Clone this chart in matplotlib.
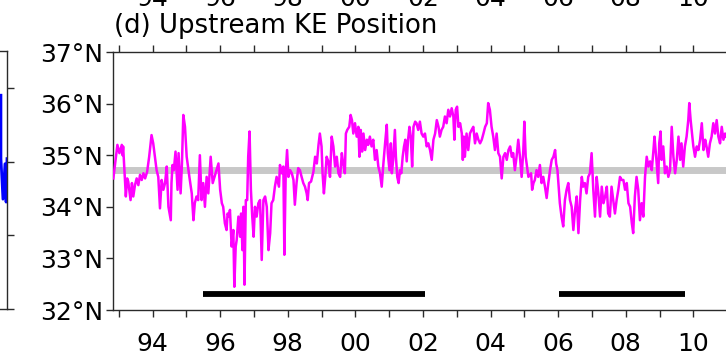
import matplotlib
matplotlib.use("Agg")
import matplotlib.pyplot as plt
import matplotlib.transforms as mtransforms
import numpy as np

plt.rcParams['font.family'] = ['DejaVu Sans']

# ---- Upstream KE position (decimal year, latitude in degrees N) ----
ke_years = [
    1992.84, 1992.96, 1993.02, 1993.09, 1993.11, 1993.13, 1993.18, 1993.21, 1993.25, 1993.28,
    1993.35, 1993.39, 1993.43, 1993.48, 1993.53, 1993.58, 1993.63, 1993.68, 1993.73, 1993.78,
    1993.84, 1993.90, 1993.97, 1994.02, 1994.07, 1994.12, 1994.17, 1994.22, 1994.27, 1994.32,
    1994.37, 1994.42, 1994.47, 1994.54, 1994.56, 1994.59, 1994.63, 1994.68, 1994.74, 1994.77,
    1994.83, 1994.87, 1994.91, 1994.96, 1995.01, 1995.09, 1995.16, 1995.21, 1995.25, 1995.30,
    1995.35, 1995.40, 1995.45, 1995.50, 1995.55, 1995.60, 1995.65, 1995.72, 1995.78,
    1995.95, 1996.00, 1996.05, 1996.09, 1996.14, 1996.19, 1996.22, 1996.26, 1996.29, 1996.34,
    1996.39, 1996.42, 1996.46, 1996.49, 1996.54, 1996.59, 1996.62, 1996.66, 1996.69, 1996.72,
    1996.76, 1996.80, 1996.83, 1996.87, 1996.91, 1996.95, 1996.99, 1997.03, 1997.08, 1997.13,
    1997.18, 1997.23, 1997.28, 1997.33, 1997.38, 1997.43, 1997.48, 1997.52, 1997.57, 1997.62,
    1997.67, 1997.74, 1997.77, 1997.82, 1997.87, 1997.90, 1997.94, 1997.98, 1998.02, 1998.07,
    1998.12, 1998.17, 1998.21, 1998.26, 1998.31, 1998.36, 1998.41, 1998.46, 1998.51, 1998.56,
    1998.59, 1998.63, 1998.69, 1998.76, 1998.81, 1998.86, 1998.91,
    1998.95, 1999.00, 1999.03, 1999.07, 1999.11, 1999.15, 1999.20, 1999.25, 1999.30, 1999.35,
    1999.40, 1999.45, 1999.50, 1999.55, 1999.60, 1999.64, 1999.69, 1999.72, 1999.76, 1999.82,
    1999.86, 1999.90, 1999.94, 1999.99, 2000.04, 2000.09, 2000.12, 2000.16, 2000.20, 2000.24,
    2000.29, 2000.34, 2000.38, 2000.43, 2000.48, 2000.53, 2000.58, 2000.63, 2000.68, 2000.73,
    2000.78, 2000.83, 2000.88, 2000.93, 2000.96, 2001.01, 2001.05, 2001.08, 2001.12, 2001.17,
    2001.20, 2001.24, 2001.28, 2001.32, 2001.36, 2001.40, 2001.44, 2001.48, 2001.52, 2001.56,
    2001.60, 2001.64, 2001.68, 2001.72, 2001.77, 2001.81, 2001.86, 2001.91, 2001.96, 2002.01,
    2002.06, 2002.11, 2002.16, 2002.21, 2002.26, 2002.31, 2002.36, 2002.41, 2002.46, 2002.50,
    2002.55, 2002.60, 2002.65, 2002.70, 2002.75, 2002.80, 2002.85, 2002.90, 2002.93, 2002.97,
    2003.01, 2003.05, 2003.10, 2003.15, 2003.18, 2003.21, 2003.24, 2003.29, 2003.34, 2003.39,
    2003.44, 2003.49, 2003.54, 2003.59, 2003.64, 2003.69, 2003.74, 2003.79, 2003.84, 2003.89,
    2003.93, 2003.98, 2004.03, 2004.08, 2004.13, 2004.18, 2004.23, 2004.28, 2004.33, 2004.38,
    2004.43, 2004.48, 2004.53, 2004.58, 2004.63, 2004.67, 2004.72, 2004.77, 2004.82, 2004.87,
    2004.92, 2004.97, 2005.00, 2005.04, 2005.08, 2005.12,
    2005.20, 2005.23, 2005.27, 2005.31, 2005.36, 2005.41, 2005.46, 2005.51, 2005.56, 2005.61,
    2005.66, 2005.71, 2005.76, 2005.81, 2005.86, 2005.91, 2005.94, 2005.98, 2006.02, 2006.05,
    2006.10, 2006.15, 2006.20, 2006.25, 2006.30, 2006.35, 2006.40, 2006.45, 2006.50, 2006.55,
    2006.60, 2006.65, 2006.70, 2006.74, 2006.79, 2006.84, 2006.89, 2006.94, 2006.99, 2007.04,
    2007.09, 2007.14, 2007.19, 2007.24, 2007.29, 2007.34, 2007.39, 2007.44, 2007.48, 2007.53,
    2007.58, 2007.63, 2007.68, 2007.73, 2007.78, 2007.83, 2007.88, 2007.93, 2007.98, 2008.03,
    2008.08,
    2008.13, 2008.18, 2008.22, 2008.27, 2008.32, 2008.37, 2008.42, 2008.47, 2008.52, 2008.57,
    2008.62, 2008.67, 2008.72, 2008.77, 2008.82, 2008.85, 2008.90, 2008.93, 2008.96, 2008.99,
    2009.03, 2009.06, 2009.11, 2009.16, 2009.21, 2009.26, 2009.31, 2009.36, 2009.41, 2009.46,
    2009.51, 2009.56, 2009.61, 2009.65, 2009.70, 2009.75, 2009.80, 2009.85, 2009.88, 2009.92,
    2009.95, 2010.00, 2010.05, 2010.10, 2010.15, 2010.20, 2010.25, 2010.30, 2010.35, 2010.39,
    2010.44, 2010.49, 2010.54, 2010.59, 2010.64, 2010.69, 2010.74, 2010.79, 2010.84, 2010.89,
    2010.94, 2010.97,
]

ke_lat = [
    34.55, 35.20, 35.04, 35.20, 35.00, 35.17, 34.58, 34.20, 34.55, 34.49,
    34.13, 34.46, 34.20, 34.42, 34.55, 34.42, 34.62, 34.52, 34.65, 34.55,
    34.68, 34.97, 35.39, 35.23, 34.97, 34.71, 34.58, 33.97, 34.52, 34.33,
    34.46, 34.78, 34.00, 33.74, 34.46, 34.81, 34.71, 35.07, 34.33, 35.04,
    34.26, 34.84, 35.78, 35.55, 34.97, 34.58, 34.26, 33.74, 34.07, 34.20,
    34.13, 35.00, 34.13, 34.46, 34.00, 34.58, 34.26, 34.97, 34.46,
    34.84, 34.33, 34.07, 34.00, 33.68, 33.55, 33.87, 33.81, 33.94, 33.23,
    33.55, 32.45, 33.23, 33.36, 33.81, 33.42, 33.87, 33.16, 34.00, 32.49,
    34.13, 34.13, 34.97, 35.46, 34.33, 33.81, 33.42, 34.00, 33.81, 34.07,
    34.13, 32.97, 34.13, 34.20, 34.00, 33.16, 33.49, 34.07, 34.13, 34.39,
    34.58, 34.39, 34.81, 34.65, 34.78, 33.07, 34.65, 35.10, 34.58, 34.71,
    34.65, 34.52, 34.04, 34.46, 34.75, 34.71, 34.58, 34.46, 34.39, 34.26,
    34.13, 34.46, 34.49, 34.68, 34.97, 34.84, 35.20,
    35.42, 35.17, 34.65, 34.26, 34.58, 34.97, 34.88, 34.58, 35.36, 35.17,
    34.78, 34.97, 34.65, 34.58, 35.04, 34.84, 34.65, 35.42, 35.49, 35.55,
    35.78, 35.68, 35.42, 35.62, 35.36, 35.55, 34.97, 35.49, 35.07, 35.42,
    35.10, 35.30, 35.20, 35.36, 35.17, 35.30, 34.91, 35.10, 34.78, 34.65,
    34.39, 34.84, 35.23, 35.59, 35.04, 34.71, 35.23, 34.65, 34.91, 35.49,
    34.97, 34.58, 34.46, 34.71, 34.65, 34.97, 35.17, 35.30, 34.88, 35.30,
    35.55, 35.36, 34.78, 35.55, 35.65, 35.62, 35.49, 35.65, 35.42, 35.36,
    35.42, 35.17, 35.23, 35.10, 34.91, 35.30, 35.42, 35.68, 35.55, 35.36,
    35.49, 35.55, 35.75, 35.62, 35.88, 35.75, 35.91, 35.75, 35.30, 35.88,
    35.94, 35.55, 35.62, 35.42, 34.91, 35.36, 34.97, 35.42, 35.10, 35.42,
    35.49, 35.55, 35.23, 35.42, 35.30, 35.23, 35.30, 35.42, 35.55, 35.62,
    36.01, 35.88, 35.55, 35.36, 35.10, 35.42, 35.04, 34.97, 34.55, 34.97,
    35.04, 34.91, 35.10, 35.17, 34.97, 35.04, 34.71, 34.97, 35.30, 34.97,
    34.58, 35.10, 35.65, 34.97, 34.78, 34.58,
    34.65, 34.33, 34.46, 34.52, 34.71, 34.58, 34.81, 34.46, 34.58, 34.39,
    34.17, 34.46, 34.71, 34.91, 34.97, 35.10, 34.84, 34.71, 34.33, 34.07,
    33.81, 33.62, 34.13, 34.33, 34.46, 34.13, 34.00, 33.55, 33.94, 34.20,
    33.49, 34.13, 34.58, 34.39, 34.46, 34.26, 34.58, 34.65, 35.04, 34.33,
    33.81, 34.58, 34.26, 33.81, 34.39, 34.07, 34.20, 34.39, 33.87, 33.81,
    34.39, 34.13, 33.87, 34.13, 34.33, 34.58, 34.52, 34.52, 34.33, 34.46,
    34.07,
    34.00, 33.68, 33.49, 34.20, 34.58, 34.33, 33.74, 34.07, 33.81, 34.58,
    34.97, 34.78, 34.88, 34.71, 35.10, 35.36, 34.97, 34.71, 34.46, 35.23,
    35.46, 34.91, 35.17, 34.65, 34.78, 34.58, 34.71, 35.55, 34.97, 34.65,
    34.91, 35.36, 34.91, 35.23, 34.78, 35.17, 35.36, 35.68, 36.01, 35.68,
    35.49, 35.17, 34.97, 35.17, 35.10, 35.30, 35.62, 35.10, 35.30, 35.17,
    34.97, 35.23, 35.36, 35.62, 35.42, 35.68, 35.36, 35.23, 35.55, 35.30,
    35.42, 35.36,
]

mean_lat = 34.71                      # long-term mean position (gray line)
unstable_periods = [(1995.49, 2002.06), (2006.03, 2009.75)]   # black bars
bar_lat = 32.31

lat_ticks = [32, 33, 34, 35, 36, 37]
year_major = [1994, 1996, 1998, 2000, 2002, 2004, 2006, 2008, 2010]
year_minor = [1993, 1995, 1997, 1999, 2001, 2003, 2005, 2007, 2009, 2011]

# neighbouring panel (partially visible on the left edge)
left_x = [9.73, 9.73, 9.82, 9.91, 9.96, 10.0]
left_y = [2.90, 2.04, 1.49, 1.97, 1.45, 2.04]

W, H = 726, 354
fig = plt.figure(figsize=(W / 100, H / 100), dpi=100)

spine_col = '#2a2a2a'
tick_fs = 18

# ---- main panel (d) ----
x_left = 1992.83
x_right = 2011.5
px_per_year = 33.8
ax_l = 113 / W
ax_b = (H - 310) / H
ax_h = (310 - 52) / H
ax_w = (x_right - x_left) * px_per_year / W
ax = fig.add_axes([ax_l, ax_b, ax_w, ax_h])

ax.axhline(mean_lat, color='#c8c8c8', lw=5, zorder=1)
ax.plot(ke_years, ke_lat, color='#ff00ff', lw=1.8, zorder=3)
for (s, e) in unstable_periods:
    ax.plot([s, e], [bar_lat, bar_lat], color='black', lw=4.2,
            solid_capstyle='butt', zorder=4)

ax.set_xlim(x_left, x_right)
ax.set_ylim(32, 37)
ax.set_yticks(lat_ticks)
ax.set_yticklabels([f"{v}°N" for v in lat_ticks])
ax.set_xticks(year_major)
ax.set_xticklabels([f"{y % 100:02d}" for y in year_major])
ax.set_xticks(year_minor, minor=True)
ax.tick_params(axis='x', which='both', direction='out', length=5, width=1.0,
               top=True, bottom=True, color=spine_col)
ax.tick_params(axis='x', which='major', labelsize=tick_fs, pad=10.5)
ax.tick_params(axis='y', which='major', direction='out', length=5, width=1.0,
               labelsize=tick_fs, pad=2, color=spine_col)
for sp in ax.spines.values():
    sp.set_linewidth(1.0)
    sp.set_color(spine_col)

fig.text(114 / W, (H - 33) / H, "(d) Upstream KE Position", fontsize=18.7,
         ha='left', va='baseline')

# tick labels of the panel above (cut off at the top edge)
trans = mtransforms.blended_transform_factory(ax.transData, fig.transFigure)
for y in year_major:
    fig.text(y, (H - 6) / H, f"{y % 100:02d}", transform=trans, fontsize=tick_fs,
             ha='center', va='baseline')

# ---- neighbouring panel on the left edge ----
axL = fig.add_axes([-0.3, ax_b + 1 / H, 0.3 + 7 / W, ax_h])
axL.plot(left_x, left_y, color='#0000ff', lw=2.0)
axL.set_xlim(0, 10)
axL.set_ylim(0, 3.5)
axL.set_yticks([0, 1, 2, 3])
axL.yaxis.tick_right()
axL.tick_params(axis='y', direction='out', length=5, width=1.0, labelright=False,
                color=spine_col)
axL.set_xticks([])
for sp in axL.spines.values():
    sp.set_linewidth(1.0)
    sp.set_color(spine_col)
axL.spines['left'].set_visible(False)

fig.savefig("out.png", dpi=100)
